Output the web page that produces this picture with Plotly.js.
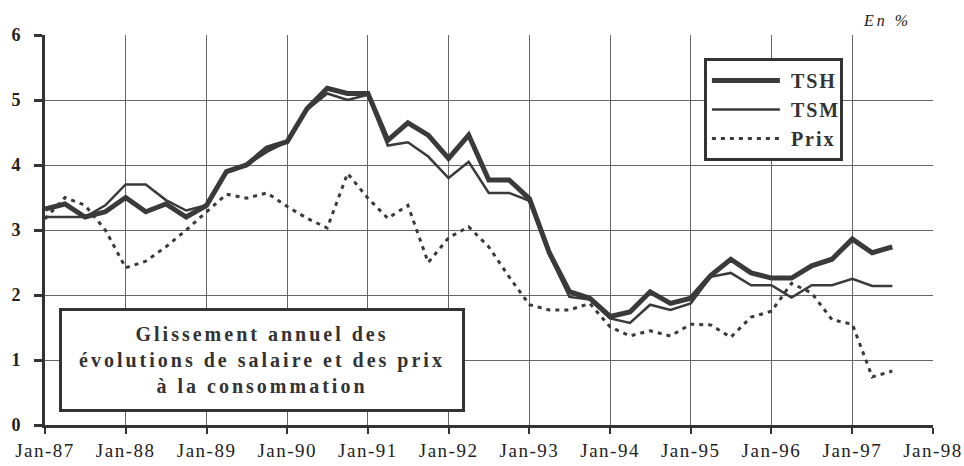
<!DOCTYPE html>
<html>
<head>
<meta charset="utf-8">
<script src="https://cdn.plot.ly/plotly-3.0.1.min.js"></script>
<style>
html,body{margin:0;padding:0;background:#fff;}
#chart{width:964px;height:466px;}
</style>
</head>
<body>
<div id="chart"></div>
<script>
// Quarterly observation dates
var quarters = [
 "1987-01-01","1987-04-01","1987-07-01","1987-10-01",
 "1988-01-01","1988-04-01","1988-07-01","1988-10-01",
 "1989-01-01","1989-04-01","1989-07-01","1989-10-01",
 "1990-01-01","1990-04-01","1990-07-01","1990-10-01",
 "1991-01-01","1991-04-01","1991-07-01","1991-10-01",
 "1992-01-01","1992-04-01","1992-07-01","1992-10-01",
 "1993-01-01","1993-04-01","1993-07-01","1993-10-01",
 "1994-01-01","1994-04-01","1994-07-01","1994-10-01",
 "1995-01-01","1995-04-01","1995-07-01","1995-10-01",
 "1996-01-01","1996-04-01","1996-07-01","1996-10-01",
 "1997-01-01","1997-04-01","1997-07-01"
];
// Taux de salaire horaire (thick)
var TSH = [3.32,3.40,3.20,3.28,3.50,3.28,3.40,3.20,3.38,3.90,4.00,4.26,4.36,4.87,5.18,5.10,5.10,4.38,4.65,4.46,4.10,4.46,3.77,3.77,3.48,2.65,2.05,1.95,1.67,1.74,2.05,1.87,1.95,2.30,2.55,2.34,2.26,2.26,2.45,2.55,2.86,2.65,2.74];
// Taux de salaire mensuel (thin)
var TSM = [3.20,3.20,3.20,3.38,3.70,3.70,3.46,3.30,3.38,3.88,4.00,4.20,4.36,4.85,5.10,5.00,5.08,4.30,4.35,4.13,3.80,4.05,3.57,3.57,3.45,2.62,1.97,1.93,1.64,1.57,1.85,1.77,1.87,2.28,2.34,2.15,2.15,1.96,2.15,2.15,2.25,2.14,2.14];
// Prix à la consommation (dotted)
var Prix = [3.17,3.50,3.38,3.00,2.42,2.52,2.74,3.00,3.28,3.55,3.49,3.57,3.36,3.18,3.03,3.87,3.49,3.18,3.38,2.50,2.88,3.05,2.74,2.28,1.85,1.77,1.77,1.87,1.51,1.37,1.45,1.37,1.55,1.54,1.35,1.66,1.75,2.18,2.03,1.62,1.55,0.74,0.83];

var seriesNames = ["TSH","TSM","Prix"];
var xRange = ["1987-01-01","1998-01-01"];
var yRange = [0,6];
var boxText = "Glissement annuel des<br>évolutions de salaire et des prix<br>à la consommation";
var unitText = "En %";

var SERIF = 'Liberation Serif, Times New Roman, serif';
var INK = '#3a3a3a';

var traces = [
  {x: quarters, y: TSH, name: seriesNames[0], type: 'scatter', mode: 'lines',
   line: {color: INK, width: 5}},
  {x: quarters, y: TSM, name: seriesNames[1], type: 'scatter', mode: 'lines',
   line: {color: INK, width: 2.5}},
  {x: quarters, y: Prix, name: seriesNames[2], type: 'scatter', mode: 'lines',
   line: {color: INK, width: 3, dash: '4px,5px'}}
];

var layout = {
  width: 964, height: 466,
  margin: {l: 45, r: 31, t: 35, b: 41},
  paper_bgcolor: '#fff', plot_bgcolor: '#fff',
  font: {family: SERIF, color: '#222'},
  showlegend: true,
  legend: {
    x: 0.742, y: 0.941, xanchor: 'left', yanchor: 'top',
    bgcolor: '#fff', bordercolor: '#333', borderwidth: 3,
    font: {family: SERIF, size: 20, weight: 'bold', color: '#333'},
    itemwidth: 74, tracegroupgap: 0
  },
  xaxis: {
    type: 'date', range: xRange, tick0: '1987-01-01', dtick: 'M12',
    tickformat: '%b-%y', showgrid: true, gridcolor: '#666', gridwidth: 1,
    showline: true, linecolor: '#333', linewidth: 3, zeroline: false,
    ticks: 'outside', ticklen: 6, tickwidth: 2, tickcolor: '#333',
    tickfont: {family: SERIF, size: 19, color: '#222'}
  },
  yaxis: {
    range: yRange, dtick: 1, showgrid: true, gridcolor: '#666', gridwidth: 1,
    showline: true, linecolor: '#333', linewidth: 3, zeroline: false,
    ticks: 'outside', ticklen: 8, tickwidth: 3, tickcolor: '#333',
    ticklabelstandoff: 10,
    tickfont: {family: SERIF, size: 18, weight: 'bold', color: '#222'}
  },
  annotations: [
    {text: unitText, xref: 'paper', yref: 'paper', x: 0.948, y: 1.038,
     xanchor: 'center', yanchor: 'middle', showarrow: false,
     font: {family: SERIF, size: 16, style: 'italic', color: '#222'}},
    {text: boxText, xref: 'paper', yref: 'paper', x: 0.244, y: 0.167,
     xanchor: 'center', yanchor: 'middle', showarrow: false,
     width: 398, height: 96, align: 'center', valign: 'middle',
     bgcolor: '#fff', bordercolor: '#333', borderwidth: 3, borderpad: 1,
     font: {family: SERIF, size: 20, weight: 'bold', color: '#333'}}
  ]
};

Plotly.newPlot('chart', traces, layout, {displayModeBar: false, staticPlot: true}).then(function(gd){
  // widen the text spacing to look like the printed original
  gd.querySelectorAll('.xtick text').forEach(function(t){ t.style.letterSpacing = '1.5px'; });
  gd.querySelectorAll('.annotation-text').forEach(function(t){ t.style.letterSpacing = '3px'; });
  gd.querySelectorAll('.legendtext').forEach(function(t){ t.style.letterSpacing = '2px'; });
  gd.querySelectorAll('.legendlines path').forEach(function(p){ p.setAttribute('d','M5,0h68'); });
});
</script>
</body>
</html>
